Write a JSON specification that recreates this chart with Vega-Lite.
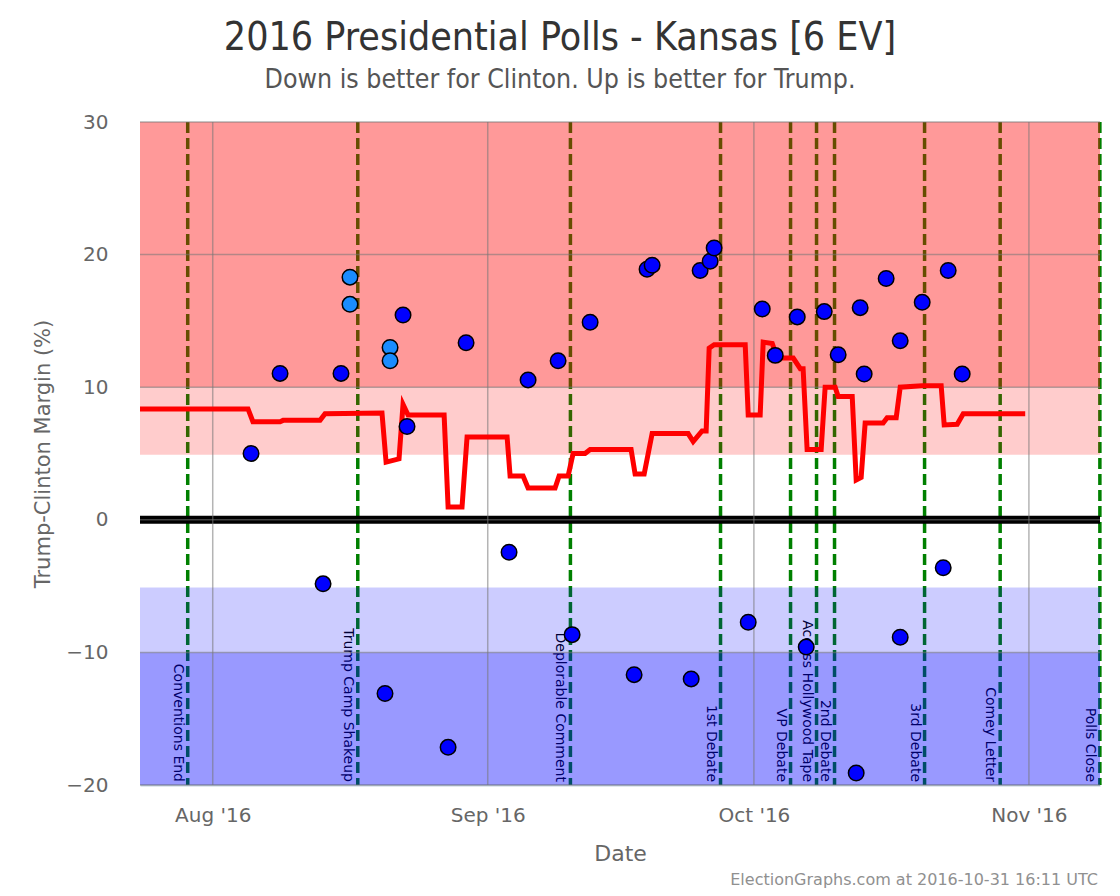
{
  "$schema": "https://vega.github.io/schema/vega-lite/v6.json",
  "width": 960,
  "height": 663,
  "autosize": {"type": "none"},
  "padding": {"left": 140, "top": 122, "right": 20, "bottom": 111},
  "background": "white",
  "title": {
    "text": "2016 Presidential Polls - Kansas [6 EV]",
    "subtitle": "Down is better for Clinton. Up is better for Trump.",
    "anchor": "middle",
    "frame": "group",
    "dx": -60,
    "offset": 19,
    "font": "DejaVu Sans Condensed, Roboto, sans-serif",
    "fontSize": 39,
    "fontWeight": "normal",
    "color": "#333333",
    "subtitleFont": "DejaVu Sans Condensed, Roboto, sans-serif",
    "subtitleFontSize": 26.5,
    "subtitleColor": "#555555",
    "subtitlePadding": 9
  },
  "config": {
    "view": {"stroke": null},
    "axisX": {
      "labelFont": "DejaVu Sans",
      "labelFontSize": 20,
      "labelColor": "#666666",
      "labelPadding": 20,
      "tickSize": 0,
      "grid": false,
      "domain": true,
      "domainColor": "#C0D0E0",
      "domainWidth": 2,
      "titleFont": "DejaVu Sans",
      "titleFontSize": 22,
      "titleFontWeight": "normal",
      "titleColor": "#666666",
      "titlePadding": 18
    },
    "axisY": {
      "labelFont": "DejaVu Sans",
      "labelFontSize": 20,
      "labelColor": "#666666",
      "labelPadding": 32,
      "tickSize": 0,
      "grid": false,
      "domain": false,
      "titleFont": "DejaVu Sans",
      "titleFontSize": 21,
      "titleFontWeight": "normal",
      "titleColor": "#666666",
      "titlePadding": 12
    }
  },
  "resolve": {"scale": {"fill": "independent", "color": "independent"}},
  "datasets": {
    "events": [
      {"date": "2016-07-29T04:20:00", "event": "Conventions End"},
      {"date": "2016-08-17T08:24:00", "event": "Trump Camp Shakeup"},
      {"date": "2016-09-10T07:40:00", "event": "Deplorable Comment"},
      {"date": "2016-09-27T05:45:00", "event": "1st Debate"},
      {"date": "2016-10-05T03:10:00", "event": "VP Debate"},
      {"date": "2016-10-08T01:30:00", "event": "Access Hollywood Tape"},
      {"date": "2016-10-10T02:10:00", "event": "2nd Debate"},
      {"date": "2016-10-20T05:45:00", "event": "3rd Debate"},
      {"date": "2016-10-28T18:15:00", "event": "Comey Letter"},
      {"date": "2016-11-09T00:00:00", "event": "Polls Close"}
    ],
    "bands": [
      {"zone": "Strong Trump", "lo": 10, "hi": 30},
      {"zone": "Weak Trump", "lo": 4.9, "hi": 10},
      {"zone": "Weak Clinton", "lo": -10, "hi": -5.1},
      {"zone": "Strong Clinton", "lo": -20, "hi": -10}
    ],
    "gridY": [{"v": -20}, {"v": -10}, {"v": 0}, {"v": 10}, {"v": 20}, {"v": 30}],
    "gridX": [
      {"date": "2016-08-01T00:00:00"},
      {"date": "2016-09-01T00:00:00"},
      {"date": "2016-10-01T00:00:00"},
      {"date": "2016-11-01T00:00:00"}
    ],
    "trend": [
      {"date": "2016-07-23T19:15:00", "v": 8.36},
      {"date": "2016-08-04T23:30:00", "v": 8.36},
      {"date": "2016-08-05T12:45:00", "v": 7.4},
      {"date": "2016-08-08T14:10:00", "v": 7.4},
      {"date": "2016-08-08T22:20:00", "v": 7.5},
      {"date": "2016-08-13T02:25:00", "v": 7.5},
      {"date": "2016-08-13T15:50:00", "v": 8.0},
      {"date": "2016-08-20T01:55:00", "v": 8.05},
      {"date": "2016-08-20T13:00:00", "v": 4.35},
      {"date": "2016-08-22T00:00:00", "v": 4.6},
      {"date": "2016-08-22T10:50:00", "v": 8.7},
      {"date": "2016-08-23T00:30:00", "v": 7.9},
      {"date": "2016-08-27T02:00:00", "v": 7.9},
      {"date": "2016-08-27T12:45:00", "v": 0.97},
      {"date": "2016-08-29T02:25:00", "v": 0.97},
      {"date": "2016-08-29T16:05:00", "v": 6.25},
      {"date": "2016-09-03T04:20:00", "v": 6.25},
      {"date": "2016-09-03T12:30:00", "v": 3.3},
      {"date": "2016-09-04T23:30:00", "v": 3.3},
      {"date": "2016-09-05T13:10:00", "v": 2.4},
      {"date": "2016-09-08T14:10:00", "v": 2.4},
      {"date": "2016-09-09T01:00:00", "v": 3.3},
      {"date": "2016-09-10T01:25:00", "v": 3.3},
      {"date": "2016-09-10T14:55:00", "v": 5.0},
      {"date": "2016-09-11T23:15:00", "v": 5.0},
      {"date": "2016-09-12T13:00:00", "v": 5.3},
      {"date": "2016-09-17T03:50:00", "v": 5.3},
      {"date": "2016-09-17T14:40:00", "v": 3.45},
      {"date": "2016-09-18T15:10:00", "v": 3.45},
      {"date": "2016-09-19T12:45:00", "v": 6.5},
      {"date": "2016-09-23T14:10:00", "v": 6.5},
      {"date": "2016-09-24T03:50:00", "v": 5.9},
      {"date": "2016-09-25T03:50:00", "v": 6.7},
      {"date": "2016-09-25T14:50:00", "v": 6.7},
      {"date": "2016-09-25T23:00:00", "v": 12.95},
      {"date": "2016-09-26T12:30:00", "v": 13.2},
      {"date": "2016-09-30T00:30:00", "v": 13.2},
      {"date": "2016-09-30T08:40:00", "v": 7.9},
      {"date": "2016-10-01T17:00:00", "v": 7.9},
      {"date": "2016-10-02T01:10:00", "v": 13.4},
      {"date": "2016-10-03T01:40:00", "v": 13.3},
      {"date": "2016-10-03T15:20:00", "v": 12.2},
      {"date": "2016-10-05T10:30:00", "v": 12.2},
      {"date": "2016-10-06T05:30:00", "v": 11.4},
      {"date": "2016-10-06T13:10:00", "v": 11.4},
      {"date": "2016-10-07T00:00:00", "v": 5.3},
      {"date": "2016-10-08T14:00:00", "v": 5.3},
      {"date": "2016-10-09T00:45:00", "v": 10.0},
      {"date": "2016-10-10T03:50:00", "v": 10.0},
      {"date": "2016-10-10T12:00:00", "v": 9.3},
      {"date": "2016-10-12T02:00:00", "v": 9.3},
      {"date": "2016-10-12T12:45:00", "v": 3.0},
      {"date": "2016-10-13T02:10:00", "v": 3.2},
      {"date": "2016-10-13T13:00:00", "v": 7.3},
      {"date": "2016-10-15T13:40:00", "v": 7.3},
      {"date": "2016-10-16T00:30:00", "v": 7.7},
      {"date": "2016-10-17T01:00:00", "v": 7.7},
      {"date": "2016-10-17T11:50:00", "v": 10.0},
      {"date": "2016-10-19T23:20:00", "v": 10.1},
      {"date": "2016-10-22T02:40:00", "v": 10.1},
      {"date": "2016-10-22T10:50:00", "v": 7.15},
      {"date": "2016-10-23T22:00:00", "v": 7.2},
      {"date": "2016-10-24T14:25:00", "v": 8.0},
      {"date": "2016-10-31T14:00:00", "v": 8.0}
    ],
    "polls": [
      {"date": "2016-08-05T07:40:00", "v": 5.0, "kind": "state"},
      {"date": "2016-08-08T14:10:00", "v": 11.04, "kind": "state"},
      {"date": "2016-08-13T10:30:00", "v": -4.83, "kind": "state"},
      {"date": "2016-08-15T11:00:00", "v": 11.04, "kind": "state"},
      {"date": "2016-08-16T11:20:00", "v": 18.3, "kind": "multi"},
      {"date": "2016-08-16T11:20:00", "v": 16.25, "kind": "multi"},
      {"date": "2016-08-20T23:45:00", "v": 13.0, "kind": "multi"},
      {"date": "2016-08-20T23:45:00", "v": 12.0, "kind": "multi"},
      {"date": "2016-08-22T10:50:00", "v": 15.45, "kind": "state"},
      {"date": "2016-08-22T21:40:00", "v": 7.04, "kind": "state"},
      {"date": "2016-08-20T10:05:00", "v": -13.1, "kind": "state"},
      {"date": "2016-08-27T12:45:00", "v": -17.16, "kind": "state"},
      {"date": "2016-08-29T13:25:00", "v": 13.35, "kind": "state"},
      {"date": "2016-09-03T09:40:00", "v": -2.45, "kind": "state"},
      {"date": "2016-09-05T13:10:00", "v": 10.55, "kind": "state"},
      {"date": "2016-09-08T22:20:00", "v": 12.0, "kind": "state"},
      {"date": "2016-09-10T12:15:00", "v": -8.66, "kind": "state"},
      {"date": "2016-09-12T13:00:00", "v": 14.9, "kind": "state"},
      {"date": "2016-09-17T12:00:00", "v": -11.68, "kind": "state"},
      {"date": "2016-09-18T23:00:00", "v": 18.9, "kind": "state"},
      {"date": "2016-09-19T12:45:00", "v": 19.2, "kind": "state"},
      {"date": "2016-09-23T22:20:00", "v": -12.0, "kind": "state"},
      {"date": "2016-09-24T22:35:00", "v": 18.8, "kind": "state"},
      {"date": "2016-09-26T01:40:00", "v": 19.5, "kind": "state"},
      {"date": "2016-09-26T12:30:00", "v": 20.5, "kind": "state"},
      {"date": "2016-09-30T08:40:00", "v": -7.73, "kind": "state"},
      {"date": "2016-10-01T22:35:00", "v": 15.9, "kind": "state"},
      {"date": "2016-10-03T09:50:00", "v": 12.4, "kind": "state"},
      {"date": "2016-10-05T21:20:00", "v": 15.3, "kind": "state"},
      {"date": "2016-10-06T21:35:00", "v": -9.6, "kind": "state"},
      {"date": "2016-10-08T22:20:00", "v": 15.7, "kind": "state"},
      {"date": "2016-10-10T12:00:00", "v": 12.45, "kind": "state"},
      {"date": "2016-10-12T12:45:00", "v": -19.1, "kind": "state"},
      {"date": "2016-10-12T23:30:00", "v": 16.0, "kind": "state"},
      {"date": "2016-10-13T10:20:00", "v": 11.0, "kind": "state"},
      {"date": "2016-10-15T21:50:00", "v": 18.2, "kind": "state"},
      {"date": "2016-10-17T11:50:00", "v": 13.5, "kind": "state"},
      {"date": "2016-10-17T11:50:00", "v": -8.86, "kind": "state"},
      {"date": "2016-10-19T23:20:00", "v": 16.4, "kind": "state"},
      {"date": "2016-10-22T08:10:00", "v": -3.62, "kind": "state"},
      {"date": "2016-10-22T21:40:00", "v": 18.8, "kind": "state"},
      {"date": "2016-10-24T11:30:00", "v": 11.0, "kind": "state"}
    ]
  },
  "layer": [
    {
      "data": {"name": "events"},
      "mark": {"type": "rule", "color": "#008000", "strokeWidth": 3.5, "strokeDash": [11, 5]},
      "encoding": {
        "x": {"field": "date", "type": "temporal", "title": "Date",
              "scale": {"domain": ["2016-07-23T19:15:00", "2016-11-09T00:20:00"]},
              "axis": {"values": [{"year": 2016, "month": 8, "date": 1}, {"year": 2016, "month": 9, "date": 1}, {"year": 2016, "month": 10, "date": 1}, {"year": 2016, "month": 11, "date": 1}], "format": "%b '%y"}}
      }
    },
    {
      "data": {"name": "events"},
      "mark": {"type": "text", "angle": 90, "align": "right", "baseline": "top", "dx": -3, "dy": 3,
               "font": "DejaVu Sans", "fontSize": 14, "color": "#000000"},
      "encoding": {
        "x": {"field": "date", "type": "temporal", "title": "Date",
              "scale": {"domain": ["2016-07-23T19:15:00", "2016-11-09T00:20:00"]},
              "axis": {"values": [{"year": 2016, "month": 8, "date": 1}, {"year": 2016, "month": 9, "date": 1}, {"year": 2016, "month": 10, "date": 1}, {"year": 2016, "month": 11, "date": 1}], "format": "%b '%y"}},
        "y": {"datum": -20, "type": "quantitative", "title": "Trump-Clinton Margin (%)",
              "scale": {"domain": [-20, 30]}, "axis": {"values": [-20, -10, 0, 10, 20, 30]}},
        "text": {"field": "event"}
      }
    },
    {
      "data": {"name": "bands"},
      "mark": {"type": "rect"},
      "encoding": {
        "y": {"field": "lo", "type": "quantitative", "title": "Trump-Clinton Margin (%)",
              "scale": {"domain": [-20, 30]}, "axis": {"values": [-20, -10, 0, 10, 20, 30]}},
        "y2": {"field": "hi"},
        "fill": {"field": "zone", "type": "nominal", "legend": null,
                 "scale": {"domain": ["Strong Trump", "Weak Trump", "Weak Clinton", "Strong Clinton"],
                           "range": ["rgba(255,0,0,0.4)", "rgba(255,0,0,0.2)", "rgba(0,0,255,0.2)", "rgba(0,0,255,0.4)"]}}
      }
    },
    {
      "data": {"values": [{}]},
      "mark": {"type": "rule", "color": "#000000", "strokeWidth": 8},
      "encoding": {
        "y": {"datum": 0, "type": "quantitative", "title": "Trump-Clinton Margin (%)",
              "scale": {"domain": [-20, 30]}, "axis": {"values": [-20, -10, 0, 10, 20, 30]}}
      }
    },
    {
      "data": {"name": "gridY"},
      "mark": {"type": "rule", "color": "#777777", "strokeWidth": 1.5, "opacity": 0.55},
      "encoding": {
        "y": {"field": "v", "type": "quantitative", "title": "Trump-Clinton Margin (%)",
              "scale": {"domain": [-20, 30]}, "axis": {"values": [-20, -10, 0, 10, 20, 30]}}
      }
    },
    {
      "data": {"name": "gridX"},
      "mark": {"type": "rule", "color": "#777777", "strokeWidth": 1.5, "opacity": 0.55},
      "encoding": {
        "x": {"field": "date", "type": "temporal", "title": "Date",
              "scale": {"domain": ["2016-07-23T19:15:00", "2016-11-09T00:20:00"]},
              "axis": {"values": [{"year": 2016, "month": 8, "date": 1}, {"year": 2016, "month": 9, "date": 1}, {"year": 2016, "month": 10, "date": 1}, {"year": 2016, "month": 11, "date": 1}], "format": "%b '%y"}}
      }
    },
    {
      "data": {"name": "trend"},
      "mark": {"type": "line", "color": "#ff0000", "strokeWidth": 5, "strokeJoin": "miter"},
      "encoding": {
        "x": {"field": "date", "type": "temporal", "title": "Date",
              "scale": {"domain": ["2016-07-23T19:15:00", "2016-11-09T00:20:00"]},
              "axis": {"values": [{"year": 2016, "month": 8, "date": 1}, {"year": 2016, "month": 9, "date": 1}, {"year": 2016, "month": 10, "date": 1}, {"year": 2016, "month": 11, "date": 1}], "format": "%b '%y"}},
        "y": {"field": "v", "type": "quantitative", "title": "Trump-Clinton Margin (%)",
              "scale": {"domain": [-20, 30]}, "axis": {"values": [-20, -10, 0, 10, 20, 30]}}
      }
    },
    {
      "data": {"name": "polls"},
      "mark": {"type": "point", "shape": "circle", "filled": true, "size": 240, "opacity": 1,
               "stroke": "#000000", "strokeWidth": 1.5},
      "encoding": {
        "x": {"field": "date", "type": "temporal", "title": "Date",
              "scale": {"domain": ["2016-07-23T19:15:00", "2016-11-09T00:20:00"]},
              "axis": {"values": [{"year": 2016, "month": 8, "date": 1}, {"year": 2016, "month": 9, "date": 1}, {"year": 2016, "month": 10, "date": 1}, {"year": 2016, "month": 11, "date": 1}], "format": "%b '%y"}},
        "y": {"field": "v", "type": "quantitative", "title": "Trump-Clinton Margin (%)",
              "scale": {"domain": [-20, 30]}, "axis": {"values": [-20, -10, 0, 10, 20, 30]}},
        "color": {"field": "kind", "type": "nominal", "legend": null,
                  "scale": {"domain": ["state", "multi"], "range": ["#0000ff", "#1a8cff"]}}
      }
    },
    {
      "data": {"values": [{}]},
      "mark": {"type": "text", "align": "right", "baseline": "middle", "dx": -2, "dy": 95,
               "font": "DejaVu Sans", "fontSize": 16, "color": "#909090",
               "text": "ElectionGraphs.com at 2016-10-31 16:11 UTC"},
      "encoding": {
        "x": {"datum": {"year": 2016, "month": 11, "date": 9, "hours": 0, "minutes": 20}, "type": "temporal", "title": "Date",
              "scale": {"domain": ["2016-07-23T19:15:00", "2016-11-09T00:20:00"]},
              "axis": {"values": [{"year": 2016, "month": 8, "date": 1}, {"year": 2016, "month": 9, "date": 1}, {"year": 2016, "month": 10, "date": 1}, {"year": 2016, "month": 11, "date": 1}], "format": "%b '%y"}},
        "y": {"datum": -20, "type": "quantitative", "title": "Trump-Clinton Margin (%)",
              "scale": {"domain": [-20, 30]}, "axis": {"values": [-20, -10, 0, 10, 20, 30]}}
      }
    }
  ]
}
